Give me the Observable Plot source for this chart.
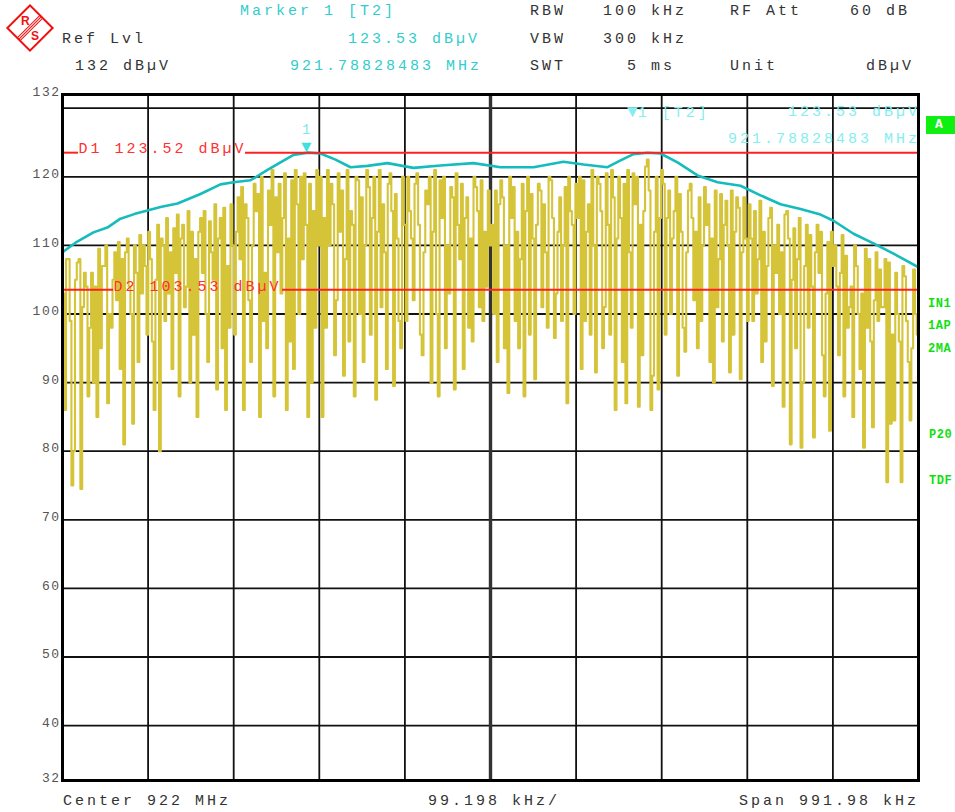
<!DOCTYPE html>
<html><head><meta charset="utf-8">
<script src="https://cdn.jsdelivr.net/npm/d3@7"></script>
<script src="https://cdn.jsdelivr.net/npm/@observablehq/plot@0.6"></script>
<style>
html,body{margin:0;padding:0;background:#fff;}
#wrap{position:relative;width:955px;height:812px;overflow:hidden;font-family:"Liberation Mono",monospace;}
.t{position:absolute;font-size:15px;letter-spacing:3px;line-height:1;white-space:nowrap;color:#333;}
.c{color:#33cccc;}
.lc{color:#86eeee;}
.g{color:#10e010;font-weight:bold;font-size:12px;letter-spacing:0.5px;}
#chart{position:absolute;left:0;top:0;}
#abox{position:absolute;left:926px;top:116px;width:32px;height:18px;background:#10f010;color:#fff;font-weight:bold;font-size:13px;line-height:18px;text-indent:9px;}
</style></head><body>
<div id="wrap">
<div id="chart"></div>
<svg style="position:absolute;left:4px;top:2px" width="52" height="52" viewBox="0 0 52 52">
  <g transform="rotate(45 26 26)">
    <rect x="10" y="10" width="32" height="32" fill="#fff" stroke="#f01010" stroke-width="2"/>
    <line x1="26" y1="10" x2="26" y2="42" stroke="#f01010" stroke-width="1"/>
    <line x1="24" y1="10" x2="24" y2="42" stroke="#f01010" stroke-width="1"/>
    <line x1="28" y1="10" x2="28" y2="42" stroke="#f01010" stroke-width="1"/>
  </g>
  <text x="17" y="23" font-size="12" font-weight="bold" fill="#f01010" font-family="Liberation Sans">R</text>
  <text x="27" y="38" font-size="12" font-weight="bold" fill="#f01010" font-family="Liberation Sans">S</text>
</svg>
<div class="t c" style="left:240px;top:3.5px">Marker 1 [T2]</div>
<div class="t" style="left:530px;top:3.5px">RBW</div>
<div class="t" style="left:603px;top:3.5px">100 kHz</div>
<div class="t" style="left:730px;top:3.5px">RF Att</div>
<div class="t" style="left:850px;top:3.5px">60 dB</div>
<div class="t" style="left:62px;top:31.5px">Ref Lvl</div>
<div class="t c" style="left:348px;top:31.5px">123.53 dBµV</div>
<div class="t" style="left:530px;top:31.5px">VBW</div>
<div class="t" style="left:603px;top:31.5px">300 kHz</div>
<div class="t" style="left:75px;top:58.5px">132 dBµV</div>
<div class="t c" style="left:290px;top:58.5px">921.78828483 MHz</div>
<div class="t" style="left:530px;top:58.5px">SWT</div>
<div class="t" style="left:627px;top:58.5px">5 ms</div>
<div class="t" style="left:730px;top:58.5px">Unit</div>
<div class="t" style="left:866px;top:58.5px">dBµV</div>
<div class="t lc" style="left:627px;top:103px"><span style="font-size:18px;letter-spacing:0">▼</span>1 [T2]</div>
<div class="t lc" style="left:788px;top:104.5px">123.53 dBµV</div>
<div class="t lc" style="left:728px;top:131.5px">921.78828483 MHz</div>
<div id="abox">A</div>
<div class="t g" style="left:928px;top:298px">IN1</div>
<div class="t g" style="left:928px;top:320px">1AP</div>
<div class="t g" style="left:928px;top:343px">2MA</div>
<div class="t g" style="left:929px;top:429px">P20</div>
<div class="t g" style="left:929px;top:475px">TDF</div>
<div class="t" style="left:63px;top:793.5px">Center 922 MHz</div>
<div class="t" style="left:428px;top:793.5px">99.198 kHz/</div>
<div class="t" style="left:739px;top:793.5px">Span 991.98 kHz</div>
</div>
<script>
// ---- data ----
const centerMHz = 922;
const spanKHz = 991.98;
const divKHz = 99.198;
const yTicks = [132, 120, 110, 100, 90, 80, 70, 60, 50, 40, 32];
const gridLevels = [130, 120, 110, 100, 90, 80, 70, 60, 50, 40];
const markerFreqMHz = 921.78828483;
const markerLevel = 123.53;
const d1Level = 123.52;
const d2Level = 103.53;

// max-hold trace (T2), frequency offset in kHz from center
const maxHoldFreq = [-495.99, -480.9, -460.1, -444.0, -428.8, -412.0, -397.5, -382.4, -362.7, -336.1, -312.9, -297.8, -278.1, -258.4, -243.4, -228.3, -211.7, -197.0, -179.6, -162.2, -142.5, -119.4, -89.2, -57.9, -19.7, 11.6, 49.8, 84.6, 107.8, 135.6, 150.7, 165.7, 181.9, 197.0, 216.7, 239.9, 263.1, 289.7, 312.9, 336.1, 359.3, 382.4, 397.5, 420.7, 443.8, 467.0, 495.99];
const maxHoldLevel = [109.0, 110.4, 111.9, 112.6, 113.9, 114.6, 115.1, 115.6, 116.1, 117.5, 118.9, 119.2, 119.5, 121.0, 122.1, 123.2, 123.53, 123.4, 122.5, 121.4, 121.6, 122.0, 121.3, 121.65, 122.0, 121.4, 121.4, 122.2, 121.8, 121.4, 122.4, 123.3, 123.5, 123.4, 122.1, 120.2, 119.2, 118.7, 117.3, 116.0, 115.3, 114.5, 113.6, 111.7, 110.3, 108.8, 106.8];

// clear-write trace (T1): per group of three sweep points a local peak, a second high and a dip
const tracePeaks = [
  108, 108, 107.5, 108, 104, 106, 109.5, 107, 110, 109, 110.5, 109, 111, 110, 111.5, 110,
  112, 113, 111, 114, 112.5, 114.5, 113, 115, 112, 114, 115, 113.5, 116, 114, 115.5, 116,
  117, 118.5, 116, 119, 117.5, 120, 118, 121, 119, 120.5, 119.5, 121, 120, 120.5, 119, 121,
  120, 121, 119, 120.5, 118, 121, 120, 119.5, 121, 118.5, 120, 121, 119, 120.5, 117.5, 120,
  120, 119, 120.5, 118, 120, 121, 119.5, 120, 118.5, 120.5, 119, 117, 120, 118.5, 119.5, 118,
  118, 119.5, 117, 120, 118.5, 119, 120, 117.5, 119, 118, 120, 119.5, 117, 118.5, 120, 119,
  120, 119.5, 121, 120, 119, 120.5, 121, 120, 119, 121, 120.5, 120, 121.5, 122.5, 120, 121,
  119, 118, 120, 117.5, 118, 119, 117, 118.5, 116, 118, 117.5, 116.5, 118, 117, 115.5, 117,
  116, 115, 116.5, 114, 115.5, 113, 114.5, 115, 112.5, 114, 113, 111.5, 113, 112, 110.5, 112,
  110, 111.5, 108.5, 110, 107, 109.5, 108, 109, 106.5, 108, 107.5, 106, 107, 105.5, 106.5, 100
];
const traceHighs = [
  103, 99, 105, 101, 106, 98, 104, 107, 100, 105, 102, 108, 104, 106, 103, 107,
  108, 105, 110, 103, 109, 106, 111, 104, 108, 112, 106, 109, 105, 111, 107, 110,
  112, 108, 114, 110, 115, 106, 113, 117, 109, 114, 111, 116, 108, 113, 115, 110,
  114, 110, 116, 112, 108, 115, 113, 117, 110, 114, 112, 116, 109, 115, 111, 113,
  115, 111, 113, 109, 116, 112, 114, 110, 117, 113, 108, 114, 111, 115, 112, 110,
  113, 116, 110, 114, 112, 108, 115, 111, 113, 116, 109, 114, 112, 110, 115, 113,
  114, 112, 116, 110, 115, 113, 117, 111, 114, 109, 116, 113, 115, 118, 112, 114,
  114, 111, 115, 112, 109, 114, 112, 110, 113, 111, 108, 113, 110, 112, 109, 111,
  111, 108, 112, 107, 110, 106, 109, 111, 105, 108, 107, 104, 109, 106, 103, 107,
  104, 106, 101, 104, 100, 103, 98, 102, 99, 101, 97, 100, 96, 99, 95, 97
];
const traceDips = [
  86, 75, 80, 74.5, 88, 90, 85, 95, 87, 98, 92, 81, 100, 84, 93, 97,
  96, 86, 80, 99, 92, 88, 101, 90, 97, 85, 100, 93, 89, 95, 86, 98,
  97, 86, 102, 93, 85, 99, 95, 88, 103, 86, 96, 92, 100, 85, 90, 98,
  85, 98, 94, 102, 91, 96, 88, 100, 93, 97, 87.5, 101, 92, 89.5, 99, 95,
  99, 102, 97, 94, 90, 100, 88, 95, 103, 89, 92, 98, 96, 101, 99, 104,
  100, 93, 95, 88.5, 99, 95, 88, 97, 90.5, 101, 98, 96.5, 103, 99, 87, 100,
  92, 99, 97, 91.5, 95, 101, 97, 86, 93, 87, 98, 86.5, 94, 86, 91, 89,
  97, 100, 91, 98, 94.5, 102, 95, 99, 93, 90, 101, 96, 91.5, 97, 90.5, 99,
  99, 103, 93, 96, 89.5, 100, 86.5, 81, 95, 80.5, 90, 98, 82, 94, 88, 83,
  94, 88, 98, 85, 92, 80.5, 96, 83.5, 101, 75.5, 84, 84.5, 75.5, 93, 84.5, 89.5
];

// display-line label gaps (kHz offsets where the label text sits)
const d1Label = {text: "D1 123.52 dBµV", from: -477.4, to: -283.9};
const d2Label = {text: "D2 103.53 dBµV", from: -436.9, to: -241.0};

// ---- build tables ----
const half = spanKHz / 2;
// order of the three samples inside each group (peak P=0, high H=1, dip D=2),
// picked from the levels so the sweep does not look periodic
const orders = [[0,1,2],[0,2,1],[1,0,2],[1,2,0],[2,0,1],[2,1,0]];
const seq = [];
tracePeaks.forEach((p, k) => {
  const vals = [p, traceHighs[k], traceDips[k]];
  orders[Math.floor(traceDips[k] + traceHighs[k]) % 6].forEach(j => seq.push(vals[j]));
});
const nPts = seq.length;
const trace = seq.map((v, i) => ({f: -half + i * spanKHz / (nPts - 1), v}));
const maxHold = maxHoldFreq.map((f, i) => ({f, v: maxHoldLevel[i]}));
const gridFreqs = d3.range(-5, 6).map(i => i * divKHz);
const markerF = (markerFreqMHz - centerMHz) * 1000;
const redSegs = [
  {y: d1Level, x1: -half, x2: d1Label.from},
  {y: d1Level, x1: d1Label.to, x2: half},
  {y: d2Level, x1: -half, x2: d2Label.from},
  {y: d2Level, x1: d2Label.to, x2: half}
];
const labels = [
  {x: d1Label.from, y: d1Level, text: d1Label.text},
  {x: d2Label.from, y: d2Level, text: d2Label.text}
];

const plot = Plot.plot({
  width: 955, height: 812,
  marginLeft: 62, marginRight: 37, marginTop: 94, marginBottom: 32,
  x: {domain: [-half, half], axis: null},
  y: {domain: [32, 132], axis: null},
  style: {fontFamily: "Liberation Mono, monospace", background: "transparent", overflow: "visible"},
  marks: [
    Plot.ruleY(gridLevels, {stroke: "#111", strokeWidth: 1.8}),
    Plot.ruleX(gridFreqs, {stroke: "#111", strokeWidth: 1.8}),
    Plot.ruleX([0], {stroke: "#333", strokeWidth: 3.4}),
    Plot.line(trace, {x: "f", y: "v", curve: "step-after", stroke: "#d5c438", strokeWidth: 2.1, clip: true}),
    Plot.line(maxHold, {x: "f", y: "v", stroke: "#16bcbc", strokeWidth: 2.6, clip: true}),
    Plot.ruleY(redSegs, {y: "y", x1: "x1", x2: "x2", stroke: "#ff2020", strokeWidth: 2}),
    Plot.text(labels, {x: "x", y: "y", text: "text", textAnchor: "start", dy: -4, fill: "#ff3030", fontSize: 15}),
    Plot.text([{x: markerF, y: markerLevel}], {x: "x", y: "y", text: () => "▼", fill: "#40e0e0", fontSize: 17, dy: -6}),
    Plot.text([{x: markerF, y: markerLevel}], {x: "x", y: "y", text: () => "1", fill: "#80e8e8", fontSize: 14, dy: -23}),
    Plot.frame({stroke: "#000", strokeWidth: 3}),
    Plot.axisY({ticks: yTicks, tickSize: 0, tickPadding: 2, dy: -3, fill: "#555", fontSize: 13, tickFormat: d => String(d), label: null})
  ]
});
d3.select(plot).selectAll("text").style("letter-spacing", "3px");
d3.select(plot).selectAll('g[aria-label="y-axis tick label"] text').style("letter-spacing", "1.5px");
document.getElementById("chart").appendChild(plot);
</script>
</body></html>
